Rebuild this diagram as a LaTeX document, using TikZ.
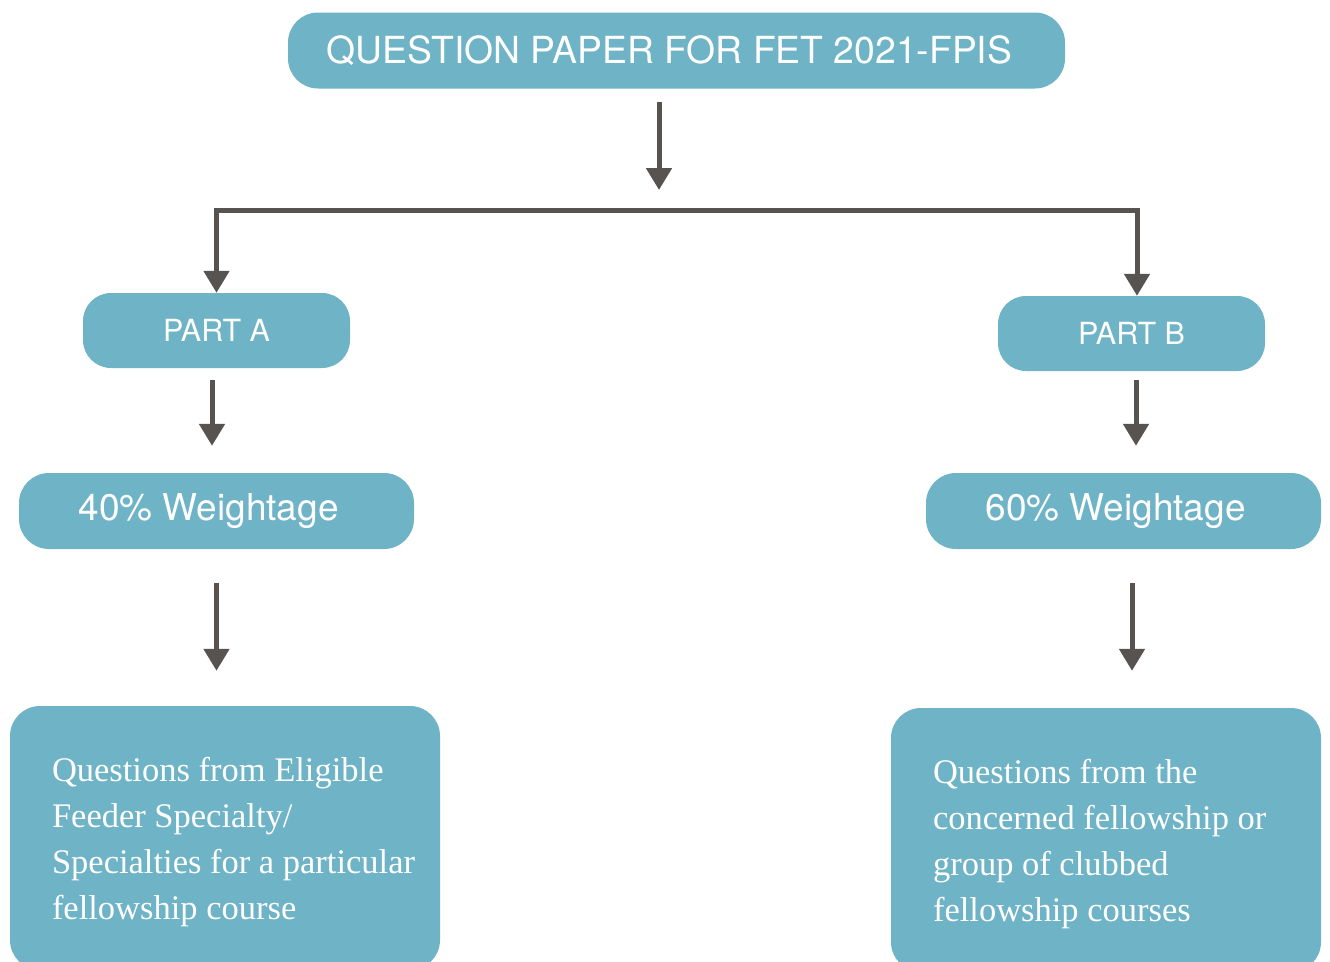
\documentclass[tikz,border=0pt]{standalone}
\usepackage{fontspec}
\setmainfont{Liberation Serif}
\setsansfont{TeX Gyre Heros}
\usetikzlibrary{arrows.meta}
\definecolor{boxblue}{HTML}{6EB3C6}
\definecolor{arrowgray}{HTML}{575351}
\begin{document}
\begin{tikzpicture}[x=1pt,y=-1pt]
			\tikzset{box/.style={rectangle, rounded corners=30pt, fill=boxblue, text=white, inner sep=0pt, font=\sffamily}};
			\tikzset{arr/.style={draw=arrowgray, line width=5pt, -{Triangle[width=25pt,length=22pt]}}};
			\tikzset{qtext/.style={text=white, text width=400pt, align=flush left, inner sep=0pt, font=\fontsize{34.5}{46}\selectfont}};
			\useasboundingbox (0,0) rectangle (1330,961);
			\clip (0,0) rectangle (1330,961);

			\node[box, minimum width=777pt, minimum height=76pt, font=\sffamily\fontsize{37.3}{44}\selectfont] (top) at (676.5,50.5) {QUESTION PAPER FOR FET 2021-FPIS\kern14pt};
			\node[box, minimum width=267pt, minimum height=75pt, rounded corners=28pt, font=\sffamily\fontsize{30.5}{36}\selectfont] (pa) at (216.5,330.5) {PART A};
			\node[box, minimum width=267pt, minimum height=75pt, rounded corners=28pt, font=\sffamily\fontsize{30.5}{36}\selectfont] (pb) at (1131.5,333.5) {PART B};
			\node[box, minimum width=395pt, minimum height=76pt, font=\sffamily\fontsize{37}{44}\selectfont] (wa) at (216.5,511) {40\% Weightage\kern16pt};
			\node[box, minimum width=395pt, minimum height=76pt, font=\sffamily\fontsize{37}{44}\selectfont] (wb) at (1123.5,511) {60\% Weightage\kern16pt};
			\node[box, minimum width=430pt, minimum height=264pt] (qa) at (225,838) {};
			\node[box, minimum width=430pt, minimum height=264pt] (qb) at (1106,840) {};

			\node[qtext, anchor=north west] (qatext) at ([xshift=42pt,yshift=-51pt]qa.north west) {Questions from Eligible\\Feeder Specialty/\\Specialties for a particular\\fellowship course};
			\node[qtext, anchor=north west] (qbtext) at ([xshift=42pt,yshift=-51pt]qb.north west) {Questions from the\\concerned fellowship or\\group of clubbed\\fellowship courses};

			\coordinate (split) at (659,210);

			\draw[arr, shorten <=13.5pt, shorten >=20pt] (top.south -| split) -- (split);
			\draw[arr] (split) -| (pa.north);
			\draw[arr] (split) -| ([xshift=5.5pt]pb.north);
			\draw[arr, shorten <=12pt, shorten >=27pt] ([xshift=-4.5pt]pa.south) -- ([xshift=-4.5pt]pa.south |- wa.north);
			\draw[arr, shorten <=9pt, shorten >=27pt] ([xshift=4.5pt]pb.south) -- ([xshift=4.5pt]pb.south |- wb.north);
			\draw[arr, shorten <=34pt, shorten >=35pt] (wa.south) -- (wa.south |- qa.north);
			\draw[arr, shorten <=34pt, shorten >=37pt] ([xshift=8.5pt]wb.south) -- ([xshift=8.5pt]wb.south |- qb.north);
		\end{tikzpicture}
\end{document}
